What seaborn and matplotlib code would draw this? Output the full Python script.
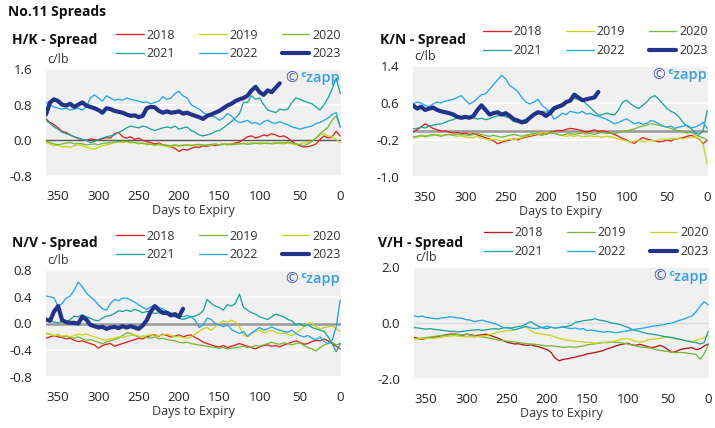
import numpy as np
import pandas as pd
import matplotlib
matplotlib.use("Agg")
import matplotlib.pyplot as plt
import seaborn as sns

# ---------------- data (c/lb) ----------------
days = list(range(365, -1, -5))          # 365, 360, ..., 0  (74 points)
years = ["2018", "2019", "2020", "2021", "2022", "2023"]

# H/K spread
hk_2018 = [0.48,0.40,0.35,0.28,0.20,0.18,0.12,0.08,0.04,0.02,
           0.00,0.03,0.02,0.00,0.04,0.06,0.05,0.15,0.18,0.08,
           0.05,0.08,0.02,0.05,0.00,-0.03,-0.05,-0.08,-0.06,-0.10,
           -0.12,-0.15,-0.18,-0.25,-0.20,-0.22,-0.18,-0.15,-0.16,-0.12,
           -0.14,-0.10,-0.12,-0.10,-0.08,-0.10,-0.08,-0.06,-0.04,0.02,
           0.08,0.10,0.05,0.08,0.12,0.10,0.15,0.12,0.08,0.10,
           0.05,-0.02,-0.08,-0.12,-0.15,-0.14,-0.12,-0.08,0.02,0.10,
           0.05,0.08,0.20,0.10]
hk_2019 = [-0.05,-0.08,-0.12,-0.10,-0.15,-0.14,-0.16,-0.12,-0.10,-0.12,
           -0.15,-0.18,-0.20,-0.16,-0.12,-0.10,-0.08,-0.05,-0.04,-0.05,
           -0.03,-0.06,-0.05,-0.08,-0.06,-0.10,-0.08,-0.12,-0.10,-0.12,
           -0.14,-0.15,-0.12,-0.14,-0.10,-0.12,-0.10,-0.12,-0.11,-0.10,
           -0.12,-0.10,-0.09,-0.10,-0.08,-0.10,-0.08,-0.09,-0.07,-0.08,
           -0.06,-0.05,-0.07,-0.05,-0.06,-0.08,-0.06,-0.05,-0.07,-0.08,
           -0.06,-0.08,-0.10,-0.08,-0.06,-0.04,-0.02,0.05,0.12,0.15,
           0.10,0.08,0.02,-0.05]
hk_2020 = [-0.02,-0.05,-0.08,-0.10,-0.08,-0.06,-0.05,-0.08,-0.07,-0.08,
           -0.10,-0.09,-0.08,-0.10,-0.07,-0.06,-0.05,-0.04,-0.03,-0.02,
           -0.02,-0.04,-0.05,-0.06,-0.07,-0.08,-0.09,-0.10,-0.08,-0.10,
           -0.11,-0.12,-0.10,-0.12,-0.11,-0.10,-0.12,-0.10,-0.09,-0.11,
           -0.10,-0.09,-0.08,-0.10,-0.09,-0.08,-0.10,-0.09,-0.08,-0.07,
           -0.09,-0.08,-0.06,-0.08,-0.07,-0.06,-0.08,-0.07,-0.05,-0.06,
           -0.04,-0.06,-0.08,-0.10,-0.12,-0.08,-0.02,0.05,0.15,0.22,
           0.30,0.45,0.55,0.30]
hk_2021 = [0.45,0.38,0.30,0.25,0.18,0.15,0.12,0.08,0.05,0.02,
           0.00,-0.05,-0.03,0.02,0.05,0.08,0.10,0.12,0.18,0.22,
           0.28,0.32,0.30,0.28,0.32,0.30,0.25,0.22,0.25,0.28,
           0.30,0.28,0.32,0.25,0.28,0.30,0.22,0.18,0.12,0.10,
           0.12,0.15,0.20,0.22,0.28,0.35,0.42,0.50,0.60,0.85,
           0.85,1.00,0.92,0.95,0.80,0.68,0.65,0.62,0.70,0.68,
           0.70,0.85,0.95,0.92,0.88,0.85,0.82,0.75,0.68,0.80,
           0.95,1.15,1.40,1.05]
hk_2022 = [0.86,0.80,0.75,0.72,0.70,0.72,0.68,0.70,0.72,0.68,
           0.75,0.95,1.02,0.95,0.88,1.00,0.95,0.90,0.92,0.90,
           0.95,0.92,0.90,0.88,0.85,0.86,0.82,0.85,0.88,0.98,
           0.92,0.95,1.05,1.10,1.00,0.95,0.80,0.75,0.70,0.62,
           0.58,0.55,0.52,0.45,0.50,0.60,0.55,0.45,0.40,0.42,
           0.45,0.38,0.40,0.35,0.42,0.45,0.40,0.38,0.42,0.38,
           0.35,0.30,0.28,0.25,0.28,0.30,0.32,0.38,0.40,0.45,
           0.50,0.58,0.62,0.30]
hk_2023 = [0.58,0.85,0.92,0.88,0.80,0.78,0.82,0.75,0.80,0.85,
           0.78,0.75,0.72,0.68,0.62,0.72,0.70,0.66,0.64,0.62,
           0.58,0.55,0.56,0.52,0.55,0.72,0.75,0.74,0.66,0.62,
           0.65,0.62,0.63,0.65,0.60,0.62,0.58,0.55,0.52,0.48,
           0.55,0.58,0.62,0.66,0.72,0.78,0.82,0.88,0.92,0.95,
           1.00,1.12,1.20,1.08,1.02,1.12,1.08,1.18,1.28]

# K/N spread
kn_2018 = [-0.03,0.02,0.08,0.15,0.10,0.05,0.02,-0.01,0.00,-0.03,
           -0.05,-0.04,-0.06,-0.05,-0.08,-0.06,-0.09,-0.12,-0.15,-0.18,
           -0.22,-0.28,-0.25,-0.22,-0.20,-0.18,-0.20,-0.16,-0.14,-0.12,
           -0.10,-0.08,-0.06,-0.08,-0.04,-0.02,0.01,0.00,0.03,0.05,
           0.04,0.02,0.00,-0.03,-0.01,0.02,-0.02,0.00,-0.02,-0.05,
           -0.08,-0.12,-0.17,-0.20,-0.25,-0.27,-0.20,-0.15,-0.18,-0.20,
           -0.22,-0.24,-0.23,-0.20,-0.22,-0.18,-0.17,-0.15,-0.12,-0.10,
           -0.13,-0.18,-0.28,-0.20]
kn_2019 = [-0.16,-0.14,-0.12,-0.10,-0.12,-0.10,-0.08,-0.10,-0.09,-0.08,
           -0.10,-0.12,-0.11,-0.13,-0.15,-0.14,-0.12,-0.16,-0.18,-0.20,
           -0.18,-0.20,-0.22,-0.20,-0.18,-0.20,-0.17,-0.15,-0.12,-0.10,
           -0.08,-0.06,-0.05,-0.03,-0.06,-0.04,-0.08,-0.10,-0.12,-0.10,
           -0.12,-0.10,-0.13,-0.12,-0.11,-0.13,-0.12,-0.14,-0.12,-0.13,
           -0.15,-0.18,-0.20,-0.22,-0.25,-0.22,-0.20,-0.24,-0.22,-0.21,
           -0.22,-0.20,-0.18,-0.19,-0.17,-0.18,-0.16,-0.18,-0.15,-0.14,
           -0.13,-0.18,-0.30,-0.72]
kn_2020 = [-0.14,-0.12,-0.10,-0.13,-0.10,-0.08,-0.10,-0.12,-0.09,-0.08,
           -0.10,-0.07,-0.08,-0.09,-0.10,-0.08,-0.06,-0.08,-0.10,-0.12,
           -0.10,-0.12,-0.14,-0.12,-0.10,-0.08,-0.10,-0.12,-0.10,-0.08,
           -0.06,-0.08,-0.10,-0.07,-0.05,-0.06,-0.08,-0.10,-0.07,-0.06,
           -0.08,-0.06,-0.05,-0.07,-0.06,-0.08,-0.05,-0.04,-0.06,-0.05,
           -0.06,-0.04,-0.02,0.00,0.02,0.04,0.08,0.10,0.12,0.15,
           0.14,0.12,0.10,0.08,0.05,0.02,0.00,-0.02,-0.05,-0.03,
           -0.08,-0.12,-0.15,-0.20]
kn_2021 = [0.04,0.05,0.08,0.06,0.10,0.12,0.14,0.15,0.18,0.22,
           0.24,0.28,0.30,0.28,0.30,0.28,0.25,0.27,0.24,0.26,
           0.30,0.32,0.34,0.30,0.28,0.20,0.18,0.22,0.25,0.30,
           0.35,0.38,0.42,0.40,0.45,0.52,0.55,0.58,0.62,0.65,
           0.70,0.68,0.66,0.58,0.50,0.42,0.33,0.35,0.38,0.36,
           0.34,0.45,0.62,0.66,0.58,0.52,0.48,0.55,0.62,0.72,
           0.76,0.68,0.58,0.48,0.42,0.38,0.30,0.18,0.10,0.05,
           -0.05,-0.08,0.00,0.44]
kn_2022 = [0.58,0.62,0.60,0.55,0.52,0.58,0.62,0.60,0.64,0.66,
           0.68,0.72,0.76,0.66,0.58,0.62,0.70,0.78,0.80,0.90,
           1.00,1.10,1.20,1.12,0.98,0.92,0.85,0.72,0.62,0.58,
           0.62,0.68,0.55,0.48,0.40,0.25,0.30,0.38,0.35,0.42,
           0.40,0.38,0.42,0.36,0.38,0.33,0.32,0.28,0.25,0.20,
           0.15,0.18,0.22,0.26,0.20,0.15,0.18,0.14,0.16,0.22,
           0.20,0.15,0.10,0.08,0.10,0.05,0.08,0.10,0.12,0.06,
           0.08,0.12,0.18,0.05]
kn_2023 = [0.55,0.48,0.52,0.45,0.48,0.50,0.45,0.42,0.40,0.38,
           0.35,0.30,0.28,0.30,0.28,0.32,0.45,0.55,0.45,0.35,
           0.38,0.40,0.35,0.38,0.32,0.25,0.22,0.18,0.20,0.28,
           0.35,0.40,0.38,0.32,0.38,0.48,0.52,0.55,0.62,0.65,
           0.78,0.72,0.66,0.68,0.70,0.72,0.84]

# N/V spread
nv_2018 = [-0.22,-0.20,-0.18,-0.20,-0.21,-0.23,-0.22,-0.25,-0.27,-0.26,
           -0.28,-0.30,-0.32,-0.37,-0.33,-0.31,-0.30,-0.34,-0.32,-0.30,
           -0.28,-0.26,-0.24,-0.22,-0.23,-0.20,-0.18,-0.17,-0.19,-0.16,
           -0.18,-0.20,-0.19,-0.17,-0.20,-0.18,-0.17,-0.21,-0.24,-0.28,
           -0.30,-0.32,-0.34,-0.35,-0.33,-0.36,-0.34,-0.32,-0.30,-0.32,
           -0.34,-0.36,-0.38,-0.35,-0.33,-0.32,-0.34,-0.33,-0.35,-0.32,
           -0.30,-0.28,-0.26,-0.28,-0.31,-0.30,-0.27,-0.25,-0.26,-0.23,
           -0.26,-0.30,-0.34,-0.38]
nv_2019 = [-0.15,-0.16,-0.18,-0.17,-0.20,-0.19,-0.21,-0.22,-0.20,-0.23,
           -0.25,-0.24,-0.26,-0.28,-0.30,-0.28,-0.26,-0.24,-0.22,-0.18,
           -0.14,-0.15,-0.18,-0.20,-0.19,-0.21,-0.22,-0.20,-0.23,-0.22,
           -0.24,-0.25,-0.26,-0.28,-0.29,-0.28,-0.30,-0.31,-0.32,-0.33,
           -0.34,-0.35,-0.36,-0.37,-0.36,-0.38,-0.37,-0.36,-0.35,-0.34,
           -0.36,-0.35,-0.33,-0.34,-0.32,-0.30,-0.28,-0.30,-0.31,-0.29,
           -0.30,-0.32,-0.30,-0.29,-0.33,-0.36,-0.38,-0.41,-0.36,-0.32,
           -0.30,-0.28,-0.32,-0.30]
nv_2020 = [-0.14,-0.16,-0.18,-0.17,-0.19,-0.18,-0.20,-0.18,-0.16,-0.17,
           -0.16,-0.18,-0.20,-0.22,-0.24,-0.25,-0.23,-0.22,-0.20,-0.21,
           -0.19,-0.18,-0.17,-0.19,-0.20,-0.18,-0.17,-0.19,-0.18,-0.17,
           -0.16,-0.18,-0.20,-0.19,-0.21,-0.22,-0.20,-0.16,-0.12,-0.08,
           -0.06,-0.10,-0.05,0.00,0.04,0.02,0.05,0.02,-0.05,-0.17,
           -0.20,-0.15,-0.12,-0.10,-0.14,-0.12,-0.10,-0.13,-0.15,-0.14,
           -0.16,-0.18,-0.15,-0.10,-0.05,0.00,0.01,-0.05,-0.08,-0.06,
           -0.05,-0.04,-0.08,-0.12]
nv_2021 = [0.06,0.04,0.02,0.01,0.03,0.02,0.06,0.11,0.10,0.13,
           0.10,0.08,0.05,0.04,0.08,0.11,0.12,0.15,0.19,0.18,
           0.20,0.18,0.21,0.19,0.16,0.18,0.17,0.15,0.16,0.14,
           0.16,0.12,0.10,0.08,0.06,0.08,0.10,0.11,0.14,0.19,
           0.36,0.30,0.26,0.24,0.20,0.28,0.26,0.30,0.44,0.24,
           0.20,0.16,0.14,0.10,0.08,0.06,0.10,0.14,0.12,0.10,
           0.06,0.04,-0.02,0.00,-0.04,-0.02,-0.06,-0.08,-0.10,-0.12,
           -0.20,-0.30,-0.42,-0.30]
nv_2022 = [0.41,0.40,0.38,0.26,0.30,0.38,0.41,0.50,0.62,0.55,
           0.46,0.40,0.35,0.28,0.22,0.20,0.30,0.36,0.34,0.38,
           0.38,0.35,0.32,0.28,0.24,0.21,0.25,0.28,0.24,0.22,
           0.18,0.16,0.14,0.12,0.10,0.12,0.10,0.05,-0.06,-0.02,
           0.08,0.06,0.00,-0.02,-0.05,-0.02,-0.09,-0.12,-0.15,-0.12,
           -0.19,-0.14,-0.10,-0.06,-0.10,-0.08,-0.05,-0.08,-0.10,-0.12,
           -0.13,-0.10,-0.15,-0.18,-0.20,-0.18,-0.22,-0.24,-0.20,-0.27,
           -0.30,-0.25,-0.05,0.35]
nv_2023 = [0.06,0.04,0.18,0.26,0.05,0.02,0.01,0.01,0.00,0.10,
           0.06,-0.02,-0.04,-0.06,-0.05,-0.08,-0.06,-0.05,-0.07,-0.04,
           -0.06,-0.04,-0.06,-0.08,-0.03,0.05,0.18,0.26,0.20,0.16,
           0.16,0.12,0.14,0.10,0.22]

# V/H spread
vh_2018 = [-0.51,-0.55,-0.58,-0.55,-0.52,-0.50,-0.48,-0.45,-0.42,-0.40,
           -0.39,-0.42,-0.44,-0.40,-0.42,-0.45,-0.44,-0.42,-0.40,-0.45,
           -0.50,-0.55,-0.62,-0.68,-0.72,-0.75,-0.74,-0.78,-0.80,-0.78,
           -0.82,-0.85,-0.90,-0.95,-1.05,-1.25,-1.35,-1.30,-1.28,-1.25,
           -1.22,-1.18,-1.15,-1.10,-1.08,-1.05,-1.02,-0.98,-0.92,-0.88,
           -0.82,-0.78,-0.75,-0.72,-0.78,-0.80,-0.76,-0.80,-0.85,-0.88,
           -0.85,-0.80,-0.85,-0.95,-1.05,-1.02,-0.95,-0.92,-0.90,-0.88,
           -0.95,-0.92,-0.82,-0.75]
vh_2019 = [-0.57,-0.55,-0.54,-0.52,-0.50,-0.48,-0.46,-0.45,-0.44,-0.42,
           -0.40,-0.41,-0.42,-0.40,-0.44,-0.46,-0.48,-0.50,-0.52,-0.55,
           -0.58,-0.62,-0.63,-0.65,-0.66,-0.68,-0.70,-0.72,-0.74,-0.75,
           -0.76,-0.78,-0.80,-0.82,-0.81,-0.83,-0.85,-0.87,-0.86,-0.85,
           -0.87,-0.84,-0.82,-0.78,-0.76,-0.74,-0.72,-0.70,-0.70,-0.68,
           -0.69,-0.70,-0.72,-0.75,-0.78,-0.82,-0.85,-0.87,-0.88,-0.90,
           -0.95,-0.98,-1.00,-1.02,-1.04,-1.06,-1.05,-1.06,-1.08,-1.10,
           -1.12,-1.30,-1.10,-0.80]
vh_2020 = [-0.57,-0.58,-0.55,-0.56,-0.54,-0.55,-0.52,-0.50,-0.48,-0.46,
           -0.45,-0.47,-0.48,-0.50,-0.49,-0.50,-0.48,-0.46,-0.45,-0.40,
           -0.36,-0.33,-0.30,-0.27,-0.28,-0.24,-0.20,-0.16,-0.15,-0.28,
           -0.35,-0.38,-0.40,-0.42,-0.45,-0.50,-0.55,-0.58,-0.62,-0.63,
           -0.65,-0.66,-0.68,-0.69,-0.70,-0.72,-0.70,-0.69,-0.68,-0.66,
           -0.64,-0.60,-0.57,-0.55,-0.60,-0.65,-0.68,-0.66,-0.60,-0.58,
           -0.57,-0.55,-0.52,-0.50,-0.53,-0.57,-0.60,-0.62,-0.64,-0.66,
           -0.62,-0.58,-0.52,-0.45]
vh_2021 = [-0.16,-0.18,-0.20,-0.22,-0.20,-0.23,-0.24,-0.26,-0.28,-0.30,
           -0.30,-0.32,-0.30,-0.28,-0.26,-0.25,-0.24,-0.26,-0.24,-0.22,
           -0.20,-0.22,-0.18,-0.16,-0.18,-0.15,-0.12,-0.10,-0.02,0.05,
           -0.05,-0.12,-0.18,-0.20,-0.15,-0.18,-0.16,-0.14,-0.12,-0.08,
           0.02,0.05,0.08,0.10,0.12,0.15,0.10,0.08,0.05,0.00,
           -0.02,-0.05,-0.10,-0.15,-0.22,-0.27,-0.30,-0.35,-0.38,-0.40,
           -0.42,-0.45,-0.48,-0.50,-0.52,-0.55,-0.58,-0.62,-0.65,-0.68,
           -0.70,-0.75,-0.70,-0.30]
vh_2022 = [0.26,0.22,0.25,0.20,0.18,0.16,0.15,0.18,0.20,0.22,
           0.20,0.18,0.16,0.12,0.10,0.05,0.08,0.10,0.05,0.02,
           -0.02,-0.08,-0.15,-0.18,-0.20,-0.24,-0.20,-0.15,-0.12,-0.18,
           -0.20,-0.18,-0.15,-0.12,-0.15,-0.18,-0.16,-0.14,-0.18,-0.20,
           -0.18,-0.22,-0.20,-0.27,-0.25,-0.28,-0.30,-0.33,-0.30,-0.32,
           -0.35,-0.33,-0.30,-0.28,-0.25,-0.22,-0.20,-0.18,-0.15,-0.12,
           -0.10,-0.08,-0.06,-0.02,0.00,0.05,0.10,0.14,0.20,0.25,
           0.40,0.60,0.76,0.65]
vh_2023 = []

# ---------------- style ----------------
sns.set_theme(style="white")
plt.rcParams["font.family"] = ["Open Sans", "DejaVu Sans"]
plt.rcParams["axes.unicode_minus"] = False

RED, YEL, GRN = "#dc2225", "#c8d41e", "#78b83a"
TEAL, BLUE, NAVY = "#1fa596", "#27a6e6", "#22338a"
DRED = "#b3161b"

panels = [
    dict(title="H/K - Spread", series=[hk_2018, hk_2019, hk_2020, hk_2021, hk_2022, hk_2023],
         colors=[RED, YEL, GRN, TEAL, BLUE, NAVY], yticks=[-0.8, 0.0, 0.8, 1.6],
         rect=[46/715, 1-176/428, 295/715, 107/428], zero="#555555", zlw=1.0,
         tpos=(12, 40)),
    dict(title="K/N - Spread", series=[kn_2018, kn_2019, kn_2020, kn_2021, kn_2022, kn_2023],
         colors=[RED, YEL, GRN, TEAL, BLUE, NAVY], yticks=[-1.0, -0.2, 0.6, 1.4],
         rect=[413/715, 1-177/428, 295/715, 111/428], zero="#999999", zlw=1.8,
         tpos=(380, 40)),
    dict(title="N/V - Spread", series=[nv_2018, nv_2019, nv_2020, nv_2021, nv_2022, nv_2023],
         colors=[RED, GRN, YEL, TEAL, BLUE, NAVY], yticks=[-0.8, -0.4, 0.0, 0.4, 0.8],
         rect=[46/715, 1-377/428, 295/715, 107/428], zero="#999999", zlw=1.8,
         tpos=(12, 243)),
    dict(title="V/H - Spread", series=[vh_2018, vh_2019, vh_2020, vh_2021, vh_2022, vh_2023],
         colors=[DRED, GRN, YEL, TEAL, BLUE, NAVY], yticks=[-2.0, 0.0, 2.0],
         rect=[414/715, 1-379/428, 295/715, 112/428], zero="#dcdcdc", zlw=1.0,
         tpos=(378, 243)),
]

W, H = 715, 428
fig = plt.figure(figsize=(W/100, H/100), dpi=100)
fig.text(8/W, 1-12/H, "No.11 Spreads", fontsize=10, fontweight="bold",
         ha="left", va="center", color="#111111")

for p in panels:
    ax = fig.add_axes(p["rect"])
    ax.set_facecolor("#f0f0f0")
    for yt in p["yticks"]:
        if abs(yt) > 1e-9:
            ax.axhline(yt, color="white", lw=1.2, zorder=1)
    ax.axhline(0.0, color=p["zero"], lw=p["zlw"], zorder=1.5)

    for yr, vals, col in zip(years, p["series"], p["colors"]):
        lw = 3.0 if yr == "2023" else 0.95
        if len(vals) > 0:
            df = pd.DataFrame({"day": days[:len(vals)], "value": vals})
            sns.lineplot(data=df, x="day", y="value", color=col, linewidth=lw,
                         label=yr, ax=ax, zorder=3 if yr == "2023" else 2)
        else:
            ax.plot([], [], color=col, linewidth=lw, label=yr)

    ax.set_xlim(365, -1)
    ax.set_ylim(p["yticks"][0], p["yticks"][-1])
    ax.set_xticks([350, 300, 250, 200, 150, 100, 50, 0])
    ax.set_yticks(p["yticks"])
    ax.set_yticklabels([f"{v:.1f}" for v in p["yticks"]])
    ax.tick_params(axis="both", length=0, labelsize=9.5, colors="#222222")
    ax.tick_params(axis="y", pad=10)
    ax.tick_params(axis="x", pad=10)
    for s in ax.spines.values():
        s.set_visible(False)
    ax.set_xlabel("Days to Expiry", fontsize=9, color="#333333", labelpad=1)
    ax.set_ylabel("")
    ax.text(0.005, 1.03, "c/lb", transform=ax.transAxes, ha="left", va="bottom",
            fontsize=9, color="#333333")
    ax.text(0.855, 0.915, "©", transform=ax.transAxes, ha="right", va="center",
            fontsize=11, color="#4f5ca8")
    ax.text(0.995, 0.915, "ᶜzapp", transform=ax.transAxes, ha="right", va="center",
            fontsize=10.5, fontweight="semibold", color="#3aa0dc",
            family=["Open Sans", "DejaVu Sans"])
    fig.text(p["tpos"][0]/W, 1-p["tpos"][1]/H, p["title"], fontsize=10,
             fontweight="bold", ha="left", va="center", color="#111111")

    handles, labels = ax.get_legend_handles_labels()
    order = [0, 3, 1, 4, 2, 5]   # row-wise fill for 3 columns x 2 rows
    leg = ax.legend([handles[i] for i in order], [labels[i] for i in order],
                    loc="lower right", bbox_to_anchor=(1.0, 1.08), ncol=3,
                    frameon=False, fontsize=9, handlelength=2.2, handletextpad=0.25,
                    columnspacing=1.9, labelspacing=0.45, borderaxespad=0, borderpad=0)
    for t in leg.get_texts():
        t.set_color("#333333")

fig.savefig("out.png", dpi=100)
